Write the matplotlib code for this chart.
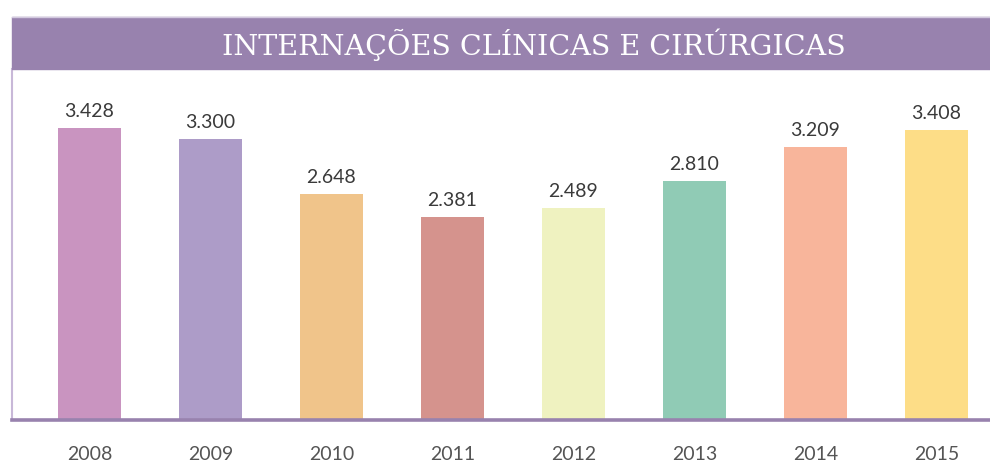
import matplotlib
matplotlib.use('Agg')
import matplotlib.pyplot as plt
from matplotlib.patches import Rectangle
from matplotlib.lines import Line2D

years = ["2008", "2009", "2010", "2011", "2012", "2013", "2014", "2015"]
values = [3428, 3300, 2648, 2381, 2489, 2810, 3209, 3408]
labels = ["3.428", "3.300", "2.648", "2.381", "2.489", "2.810", "3.209", "3.408"]
colors = ["#C994C0", "#AD9CC8", "#F0C48A", "#D5938D",
          "#EFF2C0", "#90CBB5", "#F8B59B", "#FDDD87"]
title = "INTERNAÇÕES CLÍNICAS E CIRÚRGICAS"

W, H = 990, 466
fig = plt.figure(figsize=(W / 100, H / 100), dpi=100)

# title band
fig.patches.append(Rectangle((12 / W, 1 - 69 / H), 978 / W, 52 / H,
                             transform=fig.transFigure, color="#9882AE", zorder=0))
fig.lines.append(Line2D([12 / W, 1], [1 - 16.5 / H] * 2, transform=fig.transFigure,
                        color="#D3CADF", lw=1))
fig.text(534 / W, 1 - 45 / H, title, color="white", ha="center", va="center",
         fontsize=20.5, family="DejaVu Serif")

# plot area
ax = fig.add_axes([12 / W, 46 / H, 978 / W, 351 / H])
x = list(range(len(years)))
ax.bar(x, values, width=0.52, color=colors, zorder=2)
ax.set_xlim(-0.64, 7.442)
ax.set_ylim(0, 4120)
ax.axhline(0, color="#9882AE", lw=2.6, zorder=3, clip_on=False)

for i, (v, lab) in enumerate(zip(values, labels)):
    ax.text(i, v + 95, lab, ha="center", va="bottom", fontsize=14,
            family="Lato", color="#3a3a3a")

ax.set_xticks(x)
ax.set_xticklabels(years, fontsize=14, family="Lato", color="#555555")
ax.tick_params(axis="x", length=0, pad=19)
ax.set_yticks([])
for s in ["top", "right", "bottom"]:
    ax.spines[s].set_visible(False)
ax.spines["left"].set_color("#C8B8D8")
ax.spines["left"].set_linewidth(1.5)

fig.savefig("out.png", dpi=100)
